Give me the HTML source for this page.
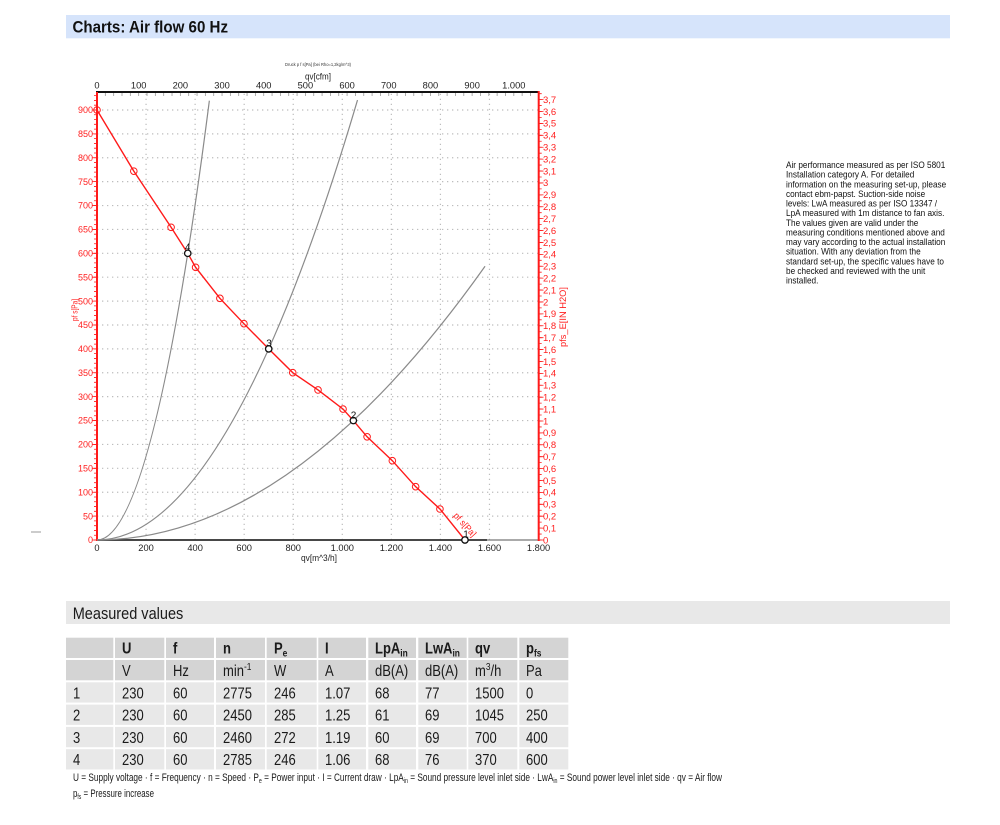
<!DOCTYPE html>
<html>
<head>
<meta charset="utf-8">
<style>
html,body{margin:0;padding:0;background:#fff;}
svg{display:block;}
</style>
</head>
<body>
<svg width="1000" height="825" viewBox="0 0 1000 825" xmlns="http://www.w3.org/2000/svg" font-family="'Liberation Sans', Arial, sans-serif">
<rect x="0" y="0" width="1000" height="825" fill="#fff"/>

<!-- Header bar -->
<rect x="66" y="15" width="884" height="23.3" fill="#d6e4fb"/>
<text x="72.5" y="32.3" font-size="17" font-weight="bold" fill="#111" textLength="155.5" lengthAdjust="spacingAndGlyphs">Charts: Air flow 60 Hz</text>

<!-- small dash at left margin -->
<line x1="31" y1="532" x2="41" y2="532" stroke="#999" stroke-width="1"/>

<!-- ============ CHART ============ -->
<text x="285" y="66" font-size="4.5" fill="#333" textLength="66" lengthAdjust="spacingAndGlyphs">Druck p f s[Pa] (bei Rho=1,2kg/m^3)</text>
<text x="305" y="79.5" font-size="9.5" fill="#222" textLength="26" lengthAdjust="spacingAndGlyphs">qv[cfm]</text>

<!-- grid -->
<g stroke="#bdbdbd" stroke-width="1.2" stroke-dasharray="1.3 3.7" fill="none">
<path d="M97,516.11H538.7M97,492.22H538.7M97,468.33H538.7M97,444.44H538.7M97,420.55H538.7M97,396.66H538.7M97,372.77H538.7M97,348.88H538.7M97,324.99H538.7M97,301.1H538.7M97,277.21H538.7M97,253.32H538.7M97,229.43H538.7M97,205.54H538.7M97,181.65H538.7M97,157.76H538.7M97,133.87H538.7M97,109.98H538.7"/>
<path d="M146.06,540V92M195.12,540V92M244.18,540V92M293.24,540V92M342.3,540V92M391.36,540V92M440.42,540V92M489.48,540V92"/>
</g>

<!-- top axis -->
<line x1="96" y1="92" x2="539" y2="92" stroke="#111" stroke-width="2"/>
<line x1="97" y1="94.5" x2="538.7" y2="94.5" stroke="#999" stroke-width="3" stroke-dasharray="0.8 7.536" stroke-dashoffset="0.4"/>
<g font-size="9.3" fill="#222" text-anchor="middle">
<text x="97" y="88.3">0</text>
<text x="138.68" y="88.3">100</text>
<text x="180.36" y="88.3">200</text>
<text x="222.04" y="88.3">300</text>
<text x="263.72" y="88.3">400</text>
<text x="305.4" y="88.3">500</text>
<text x="347.08" y="88.3">600</text>
<text x="388.76" y="88.3">700</text>
<text x="430.44" y="88.3">800</text>
<text x="472.12" y="88.3">900</text>
<text x="513.8" y="88.3">1.000</text>
</g>

<!-- bottom axis -->
<line x1="97" y1="540" x2="538.7" y2="540" stroke="#777" stroke-width="1.2"/>
<line x1="97" y1="540" x2="487" y2="540" stroke="#333" stroke-width="1.8"/>
<g font-size="9.3" fill="#222" text-anchor="middle">
<text x="97" y="551">0</text>
<text x="146.06" y="551">200</text>
<text x="195.12" y="551">400</text>
<text x="244.18" y="551">600</text>
<text x="293.24" y="551">800</text>
<text x="342.3" y="551">1.000</text>
<text x="391.36" y="551">1.200</text>
<text x="440.42" y="551">1.400</text>
<text x="489.48" y="551">1.600</text>
<text x="538.54" y="551">1.800</text>
</g>
<text x="301" y="561" font-size="9.3" fill="#222" textLength="36" lengthAdjust="spacingAndGlyphs">qv[m^3/h]</text>

<!-- left axis (red) -->
<line x1="97" y1="92" x2="97" y2="541" stroke="#ff1a1a" stroke-width="2"/>
<line x1="95.5" y1="540.4" x2="95.5" y2="92" stroke="#ff1a1a" stroke-width="3" stroke-dasharray="0.8 3.978"/>
<line x1="94.5" y1="540.4" x2="94.5" y2="105" stroke="#ff1a1a" stroke-width="5" stroke-dasharray="0.8 23.09"/>
<g font-size="9" fill="#ff2020" text-anchor="end">
<text x="93" y="543.2">0</text>
<text x="93" y="519.3">50</text>
<text x="93" y="495.4">100</text>
<text x="93" y="471.5">150</text>
<text x="93" y="447.6">200</text>
<text x="93" y="423.7">250</text>
<text x="93" y="399.9">300</text>
<text x="93" y="376">350</text>
<text x="93" y="352.1">400</text>
<text x="93" y="328.2">450</text>
<text x="93" y="304.3">500</text>
<text x="93" y="280.4">550</text>
<text x="93" y="256.5">600</text>
<text x="93" y="232.6">650</text>
<text x="93" y="208.7">700</text>
<text x="93" y="184.8">750</text>
<text x="93" y="161">800</text>
<text x="93" y="137.1">850</text>
<text x="93" y="113.2">900</text>
</g>
<text transform="translate(77.5,321) rotate(-90)" font-size="8.5" fill="#ff2020" textLength="22" lengthAdjust="spacingAndGlyphs">pf s[Pa]</text>

<!-- right axis (red) -->
<line x1="538.7" y1="91" x2="538.7" y2="541" stroke="#ff1a1a" stroke-width="2"/>
<line x1="540.2" y1="540.4" x2="540.2" y2="93" stroke="#ff1a1a" stroke-width="3" stroke-dasharray="0.8 5.151"/>
<line x1="541" y1="540.4" x2="541" y2="95" stroke="#ff1a1a" stroke-width="5" stroke-dasharray="0.8 11.102"/>
<g font-size="9.5" fill="#ff2020">
<text x="543" y="543.3">0</text>
<text x="543" y="531.4">0,1</text>
<text x="543" y="519.5">0,2</text>
<text x="543" y="507.6">0,3</text>
<text x="543" y="495.7">0,4</text>
<text x="543" y="483.8">0,5</text>
<text x="543" y="471.9">0,6</text>
<text x="543" y="460">0,7</text>
<text x="543" y="448.1">0,8</text>
<text x="543" y="436.2">0,9</text>
<text x="543" y="424.3">1</text>
<text x="543" y="412.4">1,1</text>
<text x="543" y="400.5">1,2</text>
<text x="543" y="388.6">1,3</text>
<text x="543" y="376.7">1,4</text>
<text x="543" y="364.8">1,5</text>
<text x="543" y="352.9">1,6</text>
<text x="543" y="341">1,7</text>
<text x="543" y="329.1">1,8</text>
<text x="543" y="317.2">1,9</text>
<text x="543" y="305.3">2</text>
<text x="543" y="293.4">2,1</text>
<text x="543" y="281.5">2,2</text>
<text x="543" y="269.6">2,3</text>
<text x="543" y="257.7">2,4</text>
<text x="543" y="245.8">2,5</text>
<text x="543" y="233.9">2,6</text>
<text x="543" y="222">2,7</text>
<text x="543" y="210">2,8</text>
<text x="543" y="198.1">2,9</text>
<text x="543" y="186.2">3</text>
<text x="543" y="174.3">3,1</text>
<text x="543" y="162.4">3,2</text>
<text x="543" y="150.5">3,3</text>
<text x="543" y="138.6">3,4</text>
<text x="543" y="126.7">3,5</text>
<text x="543" y="114.8">3,6</text>
<text x="543" y="102.9">3,7</text>
</g>
<text transform="translate(566,347) rotate(-90)" font-size="9.5" fill="#ff2020" textLength="60" lengthAdjust="spacingAndGlyphs">pfs_E[IN H2O]</text>

<!-- system curves (parabolas) -->
<g fill="none" stroke="#8a8a8a" stroke-width="1.2">
<path d="M97,540 Q153.17,540 209.35,100.7"/>
<path d="M97,540 Q227.25,540 357.51,100.1"/>
<path d="M97,540 Q291.03,540 485.06,266.27"/>
</g>

<!-- red fan curve -->
<polyline fill="none" stroke="#ff1a1a" stroke-width="1.4" points="97,110 133.8,171.14 171.08,227.28 187.76,253.32 195.61,267.32 219.9,298.33 243.93,323.7 268.71,348.88 292.75,372.67 318.02,389.97 343.04,409.08 353.34,420.55 367.08,436.8 392.34,460.69 415.64,486.68 439.93,508.99 464.95,540"/>
<g fill="none" stroke="#ff1a1a" stroke-width="1">
<circle cx="97" cy="110" r="3.3"/>
<circle cx="133.8" cy="171.14" r="3.3"/>
<circle cx="171.08" cy="227.28" r="3.3"/>
<circle cx="195.61" cy="267.32" r="3.3"/>
<circle cx="219.9" cy="298.33" r="3.3"/>
<circle cx="243.93" cy="323.7" r="3.3"/>
<circle cx="292.75" cy="372.67" r="3.3"/>
<circle cx="318.02" cy="389.97" r="3.3"/>
<circle cx="343.04" cy="409.08" r="3.3"/>
<circle cx="367.08" cy="436.8" r="3.3"/>
<circle cx="392.34" cy="460.69" r="3.3"/>
<circle cx="415.64" cy="486.68" r="3.3"/>
<circle cx="439.93" cy="508.99" r="3.3"/>
</g>
<text transform="translate(453,516) rotate(48)" font-size="9" fill="#ff1a1a" textLength="29" lengthAdjust="spacingAndGlyphs">pf s[Pa]</text>

<!-- operating points -->
<g fill="#fff" stroke="#111" stroke-width="1.3">
<circle cx="187.76" cy="253.32" r="3.2"/>
<circle cx="268.71" cy="348.88" r="3.2"/>
<circle cx="353.34" cy="420.55" r="3.2"/>
<circle cx="464.95" cy="540" r="3.2"/>
</g>
<g font-size="10" fill="#111" text-anchor="middle">
<text x="187.7" y="250.7">4</text>
<text x="269" y="346.7">3</text>
<text x="353.5" y="418.3">2</text>
<text x="466" y="537.5">1</text>
</g>

<!-- ============ Right description ============ -->
<g font-size="9.5" fill="#111" transform="translate(786,0) scale(0.865,1)">
<text x="0" y="168">Air performance measured as per ISO 5801</text>
<text x="0" y="177.6">Installation category A. For detailed</text>
<text x="0" y="187.3">information on the measuring set-up, please</text>
<text x="0" y="196.9">contact ebm-papst. Suction-side noise</text>
<text x="0" y="206.5">levels: LwA measured as per ISO 13347 /</text>
<text x="0" y="216.2">LpA measured with 1m distance to fan axis.</text>
<text x="0" y="225.8">The values given are valid under the</text>
<text x="0" y="235.4">measuring conditions mentioned above and</text>
<text x="0" y="245">may vary according to the actual installation</text>
<text x="0" y="254.7">situation. With any deviation from the</text>
<text x="0" y="264.3">standard set-up, the specific values have to</text>
<text x="0" y="273.9">be checked and reviewed with the unit</text>
<text x="0" y="283.6">installed.</text>
</g>

<!-- ============ Measured values ============ -->
<rect x="66" y="601" width="884" height="23" fill="#e8e8e8"/>
<text x="72.7" y="619" font-size="17" fill="#1a1a1a" textLength="110.6" lengthAdjust="spacingAndGlyphs">Measured values</text>

<!-- table cells -->
<g fill="#d4d4d4">
<rect x="66" y="637.7" width="47.3" height="20.3"/><rect x="115" y="637.7" width="49.3" height="20.3"/><rect x="166" y="637.7" width="48" height="20.3"/><rect x="216" y="637.7" width="49" height="20.3"/><rect x="266.7" y="637.7" width="50" height="20.3"/><rect x="318.3" y="637.7" width="47.7" height="20.3"/><rect x="368.3" y="637.7" width="47.7" height="20.3"/><rect x="418.3" y="637.7" width="48.4" height="20.3"/><rect x="468.3" y="637.7" width="49" height="20.3"/><rect x="519.3" y="637.7" width="49" height="20.3"/>
<rect x="66" y="660" width="47.3" height="20.3"/><rect x="115" y="660" width="49.3" height="20.3"/><rect x="166" y="660" width="48" height="20.3"/><rect x="216" y="660" width="49" height="20.3"/><rect x="266.7" y="660" width="50" height="20.3"/><rect x="318.3" y="660" width="47.7" height="20.3"/><rect x="368.3" y="660" width="47.7" height="20.3"/><rect x="418.3" y="660" width="48.4" height="20.3"/><rect x="468.3" y="660" width="49" height="20.3"/><rect x="519.3" y="660" width="49" height="20.3"/>
</g>
<g fill="#e8e8e8">
<rect x="66" y="682.3" width="47.3" height="20.3"/><rect x="115" y="682.3" width="49.3" height="20.3"/><rect x="166" y="682.3" width="48" height="20.3"/><rect x="216" y="682.3" width="49" height="20.3"/><rect x="266.7" y="682.3" width="50" height="20.3"/><rect x="318.3" y="682.3" width="47.7" height="20.3"/><rect x="368.3" y="682.3" width="47.7" height="20.3"/><rect x="418.3" y="682.3" width="48.4" height="20.3"/><rect x="468.3" y="682.3" width="49" height="20.3"/><rect x="519.3" y="682.3" width="49" height="20.3"/>
<rect x="66" y="704.6" width="47.3" height="20.3"/><rect x="115" y="704.6" width="49.3" height="20.3"/><rect x="166" y="704.6" width="48" height="20.3"/><rect x="216" y="704.6" width="49" height="20.3"/><rect x="266.7" y="704.6" width="50" height="20.3"/><rect x="318.3" y="704.6" width="47.7" height="20.3"/><rect x="368.3" y="704.6" width="47.7" height="20.3"/><rect x="418.3" y="704.6" width="48.4" height="20.3"/><rect x="468.3" y="704.6" width="49" height="20.3"/><rect x="519.3" y="704.6" width="49" height="20.3"/>
<rect x="66" y="726.9" width="47.3" height="20.3"/><rect x="115" y="726.9" width="49.3" height="20.3"/><rect x="166" y="726.9" width="48" height="20.3"/><rect x="216" y="726.9" width="49" height="20.3"/><rect x="266.7" y="726.9" width="50" height="20.3"/><rect x="318.3" y="726.9" width="47.7" height="20.3"/><rect x="368.3" y="726.9" width="47.7" height="20.3"/><rect x="418.3" y="726.9" width="48.4" height="20.3"/><rect x="468.3" y="726.9" width="49" height="20.3"/><rect x="519.3" y="726.9" width="49" height="20.3"/>
<rect x="66" y="749.2" width="47.3" height="20.3"/><rect x="115" y="749.2" width="49.3" height="20.3"/><rect x="166" y="749.2" width="48" height="20.3"/><rect x="216" y="749.2" width="49" height="20.3"/><rect x="266.7" y="749.2" width="50" height="20.3"/><rect x="318.3" y="749.2" width="47.7" height="20.3"/><rect x="368.3" y="749.2" width="47.7" height="20.3"/><rect x="418.3" y="749.2" width="48.4" height="20.3"/><rect x="468.3" y="749.2" width="49" height="20.3"/><rect x="519.3" y="749.2" width="49" height="20.3"/>
</g>

<!-- table header text -->
<g font-size="15.5" fill="#1a1a1a" font-weight="bold">
<text transform="translate(122,653.7) scale(.84,1)">U</text>
<text transform="translate(173,653.7) scale(.84,1)">f</text>
<text transform="translate(223,653.7) scale(.84,1)">n</text>
<text transform="translate(274,653.7) scale(.84,1)">P<tspan font-size="10" dy="3">e</tspan></text>
<text transform="translate(325,653.7) scale(.84,1)">I</text>
<text transform="translate(375,653.7) scale(.84,1)">LpA<tspan font-size="10" dy="3">in</tspan></text>
<text transform="translate(425,653.7) scale(.84,1)">LwA<tspan font-size="10" dy="3">in</tspan></text>
<text transform="translate(475,653.7) scale(.84,1)">qv</text>
<text transform="translate(526,653.7) scale(.84,1)">p<tspan font-size="10" dy="3">fs</tspan></text>
</g>
<g font-size="15.5" fill="#1a1a1a">
<text transform="translate(122,676) scale(.84,1)">V</text>
<text transform="translate(173,676) scale(.84,1)">Hz</text>
<text transform="translate(223,676) scale(.84,1)">min<tspan font-size="10" dy="-6">-1</tspan></text>
<text transform="translate(274,676) scale(.84,1)">W</text>
<text transform="translate(325,676) scale(.84,1)">A</text>
<text transform="translate(375,676) scale(.84,1)">dB(A)</text>
<text transform="translate(425,676) scale(.84,1)">dB(A)</text>
<text transform="translate(475,676) scale(.84,1)">m<tspan font-size="10" dy="-6">3</tspan><tspan dy="6">/h</tspan></text>
<text transform="translate(526,676) scale(.84,1)">Pa</text>

<text transform="translate(73,698.3) scale(.84,1)">1</text>
<text transform="translate(122,698.3) scale(.84,1)">230</text>
<text transform="translate(173,698.3) scale(.84,1)">60</text>
<text transform="translate(223,698.3) scale(.84,1)">2775</text>
<text transform="translate(274,698.3) scale(.84,1)">246</text>
<text transform="translate(325,698.3) scale(.84,1)">1.07</text>
<text transform="translate(375,698.3) scale(.84,1)">68</text>
<text transform="translate(425,698.3) scale(.84,1)">77</text>
<text transform="translate(475,698.3) scale(.84,1)">1500</text>
<text transform="translate(526,698.3) scale(.84,1)">0</text>

<text transform="translate(73,720.6) scale(.84,1)">2</text>
<text transform="translate(122,720.6) scale(.84,1)">230</text>
<text transform="translate(173,720.6) scale(.84,1)">60</text>
<text transform="translate(223,720.6) scale(.84,1)">2450</text>
<text transform="translate(274,720.6) scale(.84,1)">285</text>
<text transform="translate(325,720.6) scale(.84,1)">1.25</text>
<text transform="translate(375,720.6) scale(.84,1)">61</text>
<text transform="translate(425,720.6) scale(.84,1)">69</text>
<text transform="translate(475,720.6) scale(.84,1)">1045</text>
<text transform="translate(526,720.6) scale(.84,1)">250</text>

<text transform="translate(73,742.9) scale(.84,1)">3</text>
<text transform="translate(122,742.9) scale(.84,1)">230</text>
<text transform="translate(173,742.9) scale(.84,1)">60</text>
<text transform="translate(223,742.9) scale(.84,1)">2460</text>
<text transform="translate(274,742.9) scale(.84,1)">272</text>
<text transform="translate(325,742.9) scale(.84,1)">1.19</text>
<text transform="translate(375,742.9) scale(.84,1)">60</text>
<text transform="translate(425,742.9) scale(.84,1)">69</text>
<text transform="translate(475,742.9) scale(.84,1)">700</text>
<text transform="translate(526,742.9) scale(.84,1)">400</text>

<text transform="translate(73,765.2) scale(.84,1)">4</text>
<text transform="translate(122,765.2) scale(.84,1)">230</text>
<text transform="translate(173,765.2) scale(.84,1)">60</text>
<text transform="translate(223,765.2) scale(.84,1)">2785</text>
<text transform="translate(274,765.2) scale(.84,1)">246</text>
<text transform="translate(325,765.2) scale(.84,1)">1.06</text>
<text transform="translate(375,765.2) scale(.84,1)">68</text>
<text transform="translate(425,765.2) scale(.84,1)">76</text>
<text transform="translate(475,765.2) scale(.84,1)">370</text>
<text transform="translate(526,765.2) scale(.84,1)">600</text>
</g>

<!-- footer -->
<text x="73" y="781" font-size="11" fill="#1a1a1a" textLength="649" lengthAdjust="spacingAndGlyphs">U = Supply voltage · f = Frequency · n = Speed · P<tspan font-size="7" dy="2">e</tspan><tspan dy="-2"> = Power input · I = Current draw · LpA</tspan><tspan font-size="7" dy="2">in</tspan><tspan dy="-2"> = Sound pressure level inlet side · LwA</tspan><tspan font-size="7" dy="2">in</tspan><tspan dy="-2"> = Sound power level inlet side · qv = Air flow</tspan></text>
<text x="73" y="797" font-size="11" fill="#1a1a1a" textLength="81" lengthAdjust="spacingAndGlyphs">p<tspan font-size="7" dy="2">fs</tspan><tspan dy="-2"> = Pressure increase</tspan></text>
</svg>
</body>
</html>
